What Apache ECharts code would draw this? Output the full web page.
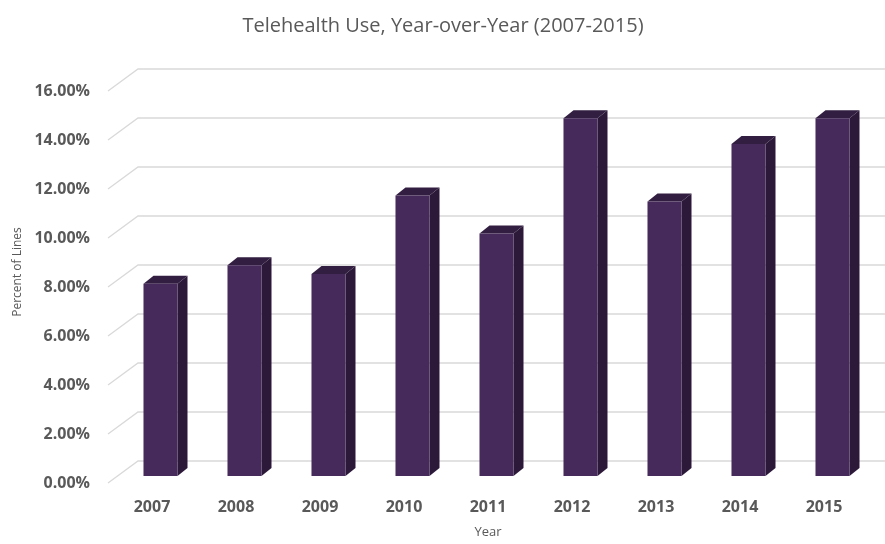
<!DOCTYPE html>
<html>
<head>
<meta charset="utf-8">
<script src="https://cdn.jsdelivr.net/npm/echarts@6/dist/echarts.min.js"></script>
<style>html,body{margin:0;padding:0;background:#fff}#c{width:885px;height:544px}</style>
</head>
<body>
<div id="c"></div>
<script>
var years = ['2007','2008','2009','2010','2011','2012','2013','2014','2015'];
var telehealth = [0.0785, 0.086, 0.0825, 0.1145, 0.099, 0.146, 0.112, 0.1355, 0.146];
var yTicks = [0, 0.02, 0.04, 0.06, 0.08, 0.10, 0.12, 0.14, 0.16];

var FRONT = '#472a5c', SIDE = '#2c1939', TOP = '#321e41';
var GRID_DX = 30, GRID_DY = -22;   // depth of the floor/back wall
var BAR_DX = 9.5, BAR_DY = -7;     // bar set back from the front plane
var SIDE_DX = 10, SIDE_DY = -8;    // bar depth

var chart = echarts.init(document.getElementById('c'), null, {renderer: 'canvas'});
chart.setOption({
  backgroundColor: '#ffffff',
  animation: false,
  title: {
    text: 'Telehealth Use, Year-over-Year (2007-2015)',
    left: 438, top: 11, textAlign: 'center',
    textStyle: {fontFamily: 'Open Sans', fontSize: 20, fontWeight: 'normal', color: '#595959'}
  },
  grid: {left: 110, right: 19, top: 91, bottom: 55},
  xAxis: {
    type: 'category', data: years,
    name: 'Year', nameLocation: 'middle', nameGap: 43,
    nameTextStyle: {fontFamily: 'Open Sans', fontSize: 13, color: '#595959'},
    axisLine: {show: false}, axisTick: {show: false},
    axisLabel: {fontFamily: 'Open Sans', fontSize: 16, fontWeight: 'bold', color: '#595959', margin: 16}
  },
  yAxis: {
    type: 'value', min: 0, max: 0.16, interval: 0.02,
    name: 'Percent of Lines', nameLocation: 'middle', nameGap: 84, nameRotate: 90,
    nameTextStyle: {fontFamily: 'Open Sans', fontSize: 12, color: '#595959', padding: [0, 0, 0, 30]},
    axisLine: {show: false}, axisTick: {show: false}, splitLine: {show: false},
    axisLabel: {
      fontFamily: 'Open Sans', fontSize: 16, fontWeight: 'bold', color: '#595959', margin: 20,
      formatter: function (v) { return (v * 100).toFixed(2) + '%'; }
    }
  },
  series: [
    {
      type: 'custom', z: 1, silent: true, clip: false,
      data: yTicks.map(function (t) { return [0, t]; }),
      renderItem: function (params, api) {
        var cs = params.coordSys;
        var y = api.coord([0, api.value(1)])[1];
        var x0 = cs.x - 2;
        return {
          type: 'polyline',
          shape: {points: [[x0, y], [x0 + GRID_DX, y + GRID_DY], [cs.x + cs.width + 40, y + GRID_DY]]},
          style: {stroke: '#d9d9d9', lineWidth: 1.3, fill: null}
        };
      }
    },
    {
      type: 'custom', z: 2, silent: true, clip: false,
      data: telehealth.map(function (v, i) { return [i, v]; }),
      renderItem: function (params, api) {
        var i = api.value(0), v = api.value(1);
        var base = api.coord([i, 0]);
        var top = api.coord([i, v]);
        var band = api.size([1, 0])[0];
        var w = band * 0.405;
        var x0 = base[0] - w / 2 - 1 + BAR_DX;
        var x1 = x0 + w;
        var yb = base[1] + BAR_DY;
        var yt = top[1] + BAR_DY;
        return {
          type: 'group',
          children: [
            {type: 'polygon', shape: {points: [[x1, yb], [x1 + SIDE_DX, yb + SIDE_DY], [x1 + SIDE_DX, yt + SIDE_DY], [x1, yt]]},
             style: {fill: SIDE}},
            {type: 'polygon', shape: {points: [[x0, yt], [x0 + SIDE_DX, yt + SIDE_DY], [x1 + SIDE_DX, yt + SIDE_DY], [x1, yt]]},
             style: {fill: TOP}},
            {type: 'rect', shape: {x: x0, y: yt, width: w, height: yb - yt},
             style: {fill: FRONT}}
          ]
        };
      }
    }
  ]
});
</script>
</body>
</html>
